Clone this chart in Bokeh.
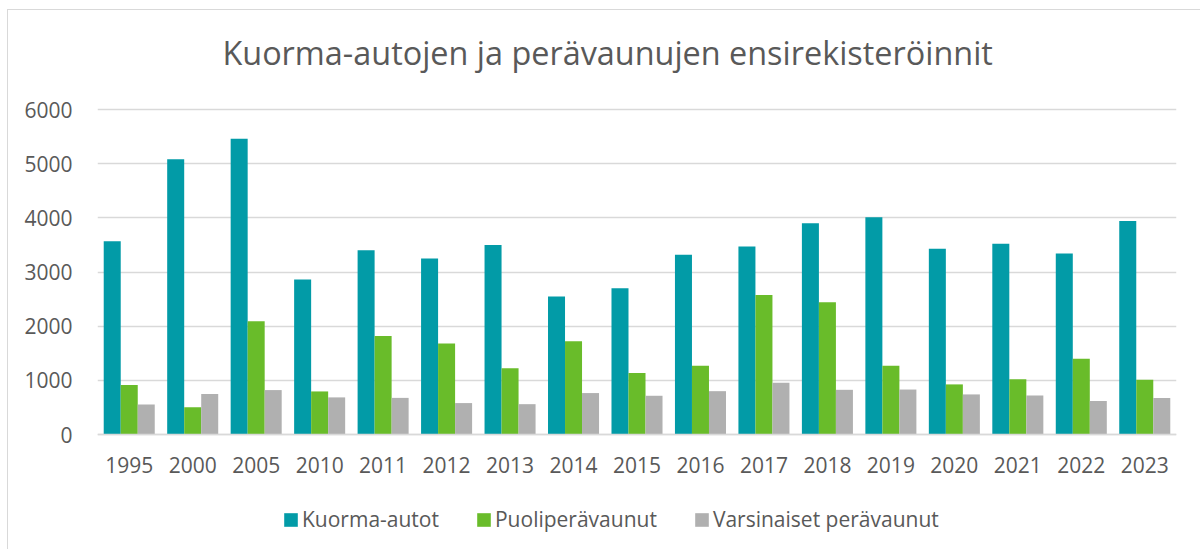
from bokeh.plotting import figure
from bokeh.models import FactorRange, ColumnDataSource, Legend, LegendItem, FixedTicker, Label
from bokeh.transform import dodge
from bokeh.embed import file_html
from bokeh.resources import INLINE

years = ["1995", "2000", "2005", "2010", "2011", "2012", "2013", "2014", "2015",
         "2016", "2017", "2018", "2019", "2020", "2021", "2022", "2023"]
kuorma_autot = [3570, 5080, 5460, 2860, 3400, 3250, 3500, 2550, 2700,
                3320, 3470, 3900, 4010, 3430, 3520, 3340, 3940]
puoliperavaunut = [916, 505, 2090, 795, 1820, 1680, 1225, 1720, 1135,
                   1270, 2575, 2440, 1270, 925, 1020, 1400, 1010]
varsinaiset = [555, 750, 820, 685, 676, 580, 560, 765, 715,
               800, 955, 825, 830, 740, 720, 620, 672]
series_names = ["Kuorma-autot", "Puoliperävaunut", "Varsinaiset perävaunut"]
colors = ["#029BA7", "#69BC2A", "#B0B0B0"]
title_text = "Kuorma-autojen ja perävaunujen ensirekisteröinnit"
y_ticks = [0, 1000, 2000, 3000, 4000, 5000, 6000]

src = ColumnDataSource(dict(year=years, a=kuorma_autot, b=puoliperavaunut, c=varsinaiset))

FONT = "Open Sans"
TXT = "#595959"

# frame covers the whole height; value axis ticks only span 0..6000
p = figure(x_range=FactorRange(*years, range_padding=0), y_range=(-2141.5, 7827.7),
           width=1193, height=540, output_backend="svg", toolbar_location=None,
           min_border_left=89, min_border_right=25, min_border_top=0, min_border_bottom=0)
p.margin = (9, 0, 0, 7)
p.title = None

w = 0.268
r1 = p.vbar(x=dodge("year", -w, range=p.x_range), top="a", width=w, source=src,
            fill_color=colors[0], line_color=None)
r2 = p.vbar(x=dodge("year", 0, range=p.x_range), top="b", width=w, source=src,
            fill_color=colors[1], line_color=None)
r3 = p.vbar(x=dodge("year", w, range=p.x_range), top="c", width=w, source=src,
            fill_color=colors[2], line_color=None)

p.outline_line_color = None
p.background_fill_color = "white"
p.border_fill_color = "white"

p.xgrid.grid_line_color = None
p.ygrid.grid_line_color = "#D9D9D9"
p.ygrid.grid_line_width = 1.5
p.yaxis.ticker = FixedTicker(ticks=y_ticks)

for ax in (p.xaxis[0], p.yaxis[0]):
    ax.major_tick_line_color = None
    ax.minor_tick_line_color = None
    ax.major_label_text_font = FONT
    ax.major_label_text_font_size = "21px"
    ax.major_label_text_color = TXT
p.yaxis.axis_line_color = None
p.xaxis.axis_line_color = "#D9D9D9"
p.xaxis.axis_line_width = 1.5
p.xaxis.fixed_location = 0
p.yaxis.major_label_standoff = 19
p.xaxis.major_label_standoff = 16

title = Label(x=2.0, y=7065, text=title_text, text_font=FONT, text_font_size="32.4px",
              text_color=TXT, text_baseline="alphabetic", text_align="left", x_offset=-2)
p.add_layout(title)

legend = Legend(items=[LegendItem(label=series_names[0], renderers=[r1]),
                       LegendItem(label=series_names[1], renderers=[r2]),
                       LegendItem(label=series_names[2], renderers=[r3])],
                orientation="horizontal", location=(185, 17),
                glyph_width=17, glyph_height=17, label_standoff=3, spacing=36,
                label_text_font=FONT, label_text_font_size="21px", label_text_color=TXT,
                border_line_color=None, background_fill_alpha=0, padding=0, margin=0)
p.add_layout(legend, "center")

p.styles = {"border-left": "1px solid #D9D9D9", "border-top": "1px solid #D9D9D9"}

open("out.html", "w").write(file_html(p, INLINE))
